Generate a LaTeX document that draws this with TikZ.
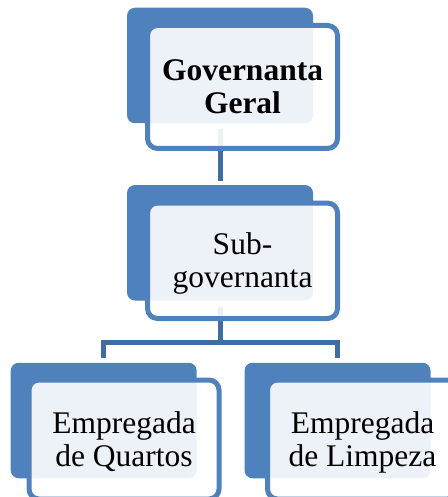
\documentclass[tikz,border=0pt]{standalone}
\usepackage{fontspec}
\setmainfont{Liberation Serif}
\newcommand\sgTop{\rule{0pt}{29pt}}
\newcommand\sgBot{\rule[-8pt]{0pt}{8pt}}
\definecolor{sgblue}{HTML}{4F81BD}
\definecolor{sgline}{HTML}{3F6DA3}
\begin{document}
\begin{tikzpicture}[x=1pt,y=-1pt,
  backbox/.style={rectangle, rounded corners=8pt, fill=sgblue, minimum width=186pt, minimum height=115.5pt, inner sep=0pt, outer sep=0pt},
  frontbox/.style={rectangle, rounded corners=10pt, draw=sgblue, line width=5pt, fill=white, fill opacity=0.9, draw opacity=1, text opacity=1, minimum width=190pt, inner sep=0pt, outer sep=0pt, align=center, font=\fontsize{31.5}{33}\selectfont, text=black},
  link/.style={draw=sgline, line width=5pt, line join=miter}]
\useasboundingbox (0,0) rectangle (447,497);
% back boxes
\node[backbox] (b1) at (220,65.5) {};
\node[backbox] (b2) at (220,242.75) {};
\node[backbox] (b3) at (103.7,420.5) {};
\node[backbox] (b4) at (337.5,420.5) {};
% connectors
\draw[link] ([yshift=-6pt]b1.south) -- ([yshift=4pt]b2.north);
\coordinate (hub) at ([yshift=-42pt]b2.south);
\draw[link] ([yshift=-6pt]b2.south) -- (hub);
\draw[link] ([yshift=5pt]b3.north) |- (hub) -| ([yshift=5pt]b4.north);
% front boxes
\node[frontbox, minimum height=123pt, font={\fontsize{31.5}{33}\selectfont\bfseries}] (f1) at (242.5,87) {\sgTop Governanta\\Geral\sgBot};
\node[frontbox, minimum height=115.5pt] (f2) at (242.5,260.75) {\sgTop Sub-\\governanta\sgBot};
\node[frontbox, minimum height=119pt] (f3) at (124,439.5) {\sgTop Empregada\\de Quartos\sgBot};
\node[frontbox, minimum height=119pt] (f4) at (362.5,439.5) {\sgTop Empregada\\de Limpeza\sgBot};
\end{tikzpicture}
\end{document}
